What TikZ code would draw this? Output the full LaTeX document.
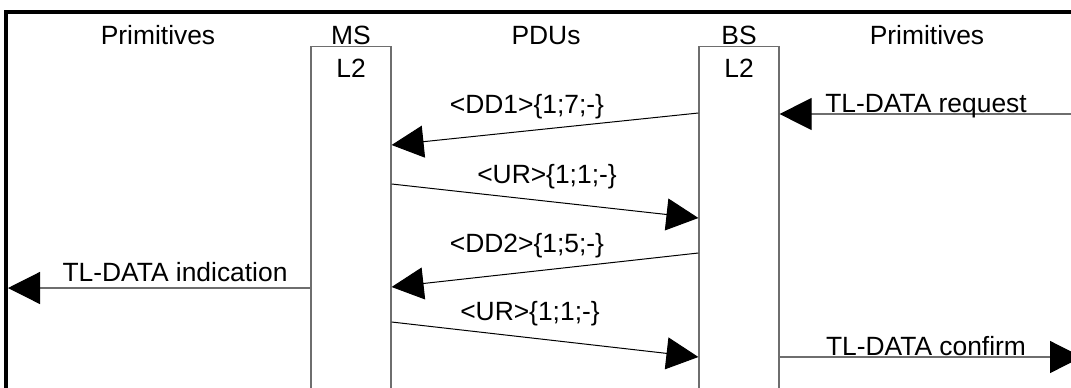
\documentclass[tikz,border=0pt]{standalone}
\usepackage{fontspec}
\setmainfont{Liberation Sans}
\usetikzlibrary{arrows.meta,positioning}
\definecolor{LayerGray}{HTML}{6E6E6E}
\definecolor{InkDark}{HTML}{000000}
\tikzset{
  lbl/.style={font=\fontsize{13.2}{15}\selectfont, inner sep=0pt, anchor=base},
  layerbox/.style={draw=LayerGray, line width=0.6pt, minimum width=40pt,
             minimum height=180pt, inner sep=0pt, anchor=north},
  framebar/.style={line width=1.8pt, draw=InkDark},
  pdu/.style={line width=0.5pt, draw=InkDark, -{Triangle[length=16pt,width=16pt]}},
  prim/.style={line width=0.6pt, draw=LayerGray, -{Triangle[length=16pt,width=16pt,color=InkDark]}},
}
\begin{document}
\begin{tikzpicture}[x=0.5pt, y=-0.5pt]
\useasboundingbox (0,0) rectangle (1071,387);
% outer frame (top and left only)
\draw[framebar] (1090,12) -- (6,12) -- (6,400);
% column headings
\node[lbl] (primL) at (158,44) {Primitives};
\node[lbl] (msname) at (351,44) {MS};
\node[lbl] (pdus) at (546,44) {PDUs};
\node[lbl] (bsname) at (739,44) {BS};
\node[lbl] (primR) at (927,44) {Primitives};
% L2 entities
\node[layerbox] (ms) at (351,46) {};
\node[layerbox] (bs) at (739,46) {};
\node[lbl] (msl2) at (351,77) {L2};
\node[lbl] (bsl2) at (739,77) {L2};
% message levels
\coordinate (lv1) at (0,113);
\coordinate (lv2) at (0,145);
\coordinate (lv3) at (0,184);
\coordinate (lv4) at (0,218);
\coordinate (lv5) at (0,253);
\coordinate (lv6) at (0,287);
\coordinate (lv7) at (0,322);
\coordinate (lv8) at (0,357);
\coordinate (req) at (1085,114);
\coordinate (ind) at (8,288);
\coordinate (cnf) at (1082,357);
% PDUs
\draw[pdu] (bs.west |- lv1) -- (ms.east |- lv2);
\draw[pdu] (ms.east |- lv3) -- (bs.west |- lv4);
\draw[pdu] (bs.west |- lv5) -- (ms.east |- lv6);
\draw[pdu] (ms.east |- lv7) -- (bs.west |- lv8);
\node[lbl] (dd1) at (527,113) {<DD1>\{1;7;-\}};
\node[lbl] (ur1) at (547,183) {<UR>\{1;1;-\}};
\node[lbl] (dd2) at (527,252) {<DD2>\{1;5;-\}};
\node[lbl] (ur2) at (530,320) {<UR>\{1;1;-\}};
% primitives
\draw[prim] (req) -- (bs.east |- req);
\draw[prim] (ms.west |- ind) -- (ind);
\draw[prim] (bs.east |- cnf) -- (cnf);
\node[lbl] (treq) at (926,112) {TL-DATA request};
\node[lbl] (tind) at (175,281) {TL-DATA indication};
\node[lbl] (tcnf) at (926,355) {TL-DATA confirm};
\end{tikzpicture}
\end{document}
